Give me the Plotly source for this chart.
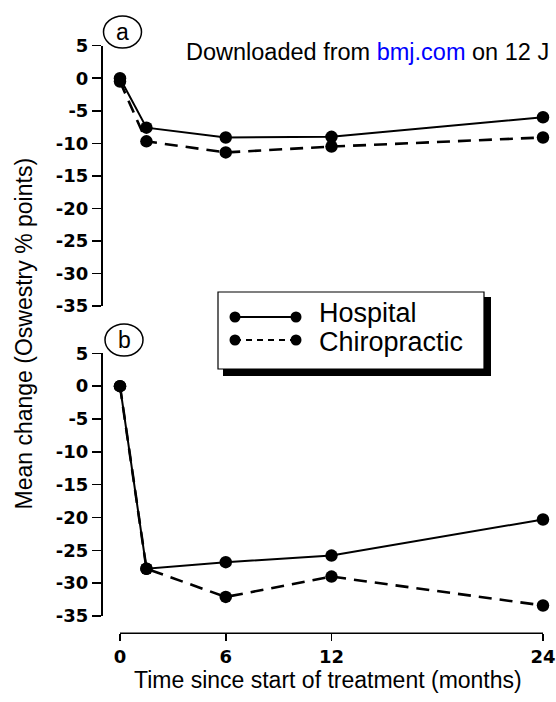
import plotly.graph_objects as go

# ---- data ----
months = [0, 1.5, 6, 12, 24]
tick_months = [0, 6, 12, 24]
tick_labels = ["0", "6", "12", "24"]
y_ticks = [5, 0, -5, -10, -15, -20, -25, -30, -35]
y_tick_labels = ["5", "0", "-5", "-10", "-15", "-20", "-25", "-30", "-35"]

hospital_a = [0, -7.6, -9.1, -9.0, -6.0]
chiro_a = [-0.5, -9.7, -11.4, -10.5, -9.1]
hospital_b = [0, -27.8, -26.8, -25.8, -20.3]
chiro_b = [0, -27.8, -32.1, -29.0, -33.4]

series_names = ["Hospital", "Chiropractic"]

W, H = 556, 702


def px(x):
    return x / W


def py(y):
    return 1 - y / H


fig = go.Figure()

solid = dict(color="black", width=2)
dashed = dict(color="black", width=2.6, dash="13px,8px")
mk = dict(color="black", size=12.5)

fig.add_trace(go.Scatter(x=months, y=hospital_a, mode="lines+markers", name=series_names[0],
                         line=solid, marker=mk, xaxis="x", yaxis="y", cliponaxis=False))
fig.add_trace(go.Scatter(x=months, y=chiro_a, mode="lines+markers", name=series_names[1],
                         line=dashed, marker=mk, xaxis="x", yaxis="y", cliponaxis=False))
fig.add_trace(go.Scatter(x=months, y=hospital_b, mode="lines+markers", name=series_names[0],
                         line=solid, marker=mk, xaxis="x", yaxis="y2", cliponaxis=False))
fig.add_trace(go.Scatter(x=months, y=chiro_b, mode="lines+markers", name=series_names[1],
                         line=dashed, marker=mk, xaxis="x", yaxis="y2", cliponaxis=False))

tickfont = dict(family="DejaVu Sans", size=18, color="black", weight="bold")
yax = dict(range=[-35, 5], tickvals=y_ticks, ticktext=y_tick_labels, showline=True,
           linecolor="black", linewidth=1.5, ticks="outside", ticklen=9, tickwidth=1.5,
           tickcolor="black", showgrid=False, zeroline=False, tickfont=tickfont, anchor="x",
           fixedrange=True, automargin=False)

x0 = 102.5
xr0 = 0 - (120 - x0) / 17.625
xr1 = (W - 120) / 17.625

fig.update_layout(
    template="none",
    width=W, height=H,
    margin=dict(l=0, r=0, t=0, b=0, autoexpand=False),
    paper_bgcolor="white", plot_bgcolor="white",
    xaxis=dict(domain=[px(x0), 1], range=[xr0, xr1], tickvals=tick_months, ticktext=tick_labels,
               showline=False, ticks="outside", ticklen=7, tickwidth=1.5, tickcolor="black",
               showgrid=False, zeroline=False, tickfont=tickfont, anchor="free",
               position=py(633.3), automargin=False, fixedrange=True),
    yaxis=dict(domain=[py(306), py(45.7)], **yax),
    yaxis2=dict(domain=[py(616), py(353.3)], **yax),
    showlegend=False,
)

shapes = []
# x-axis baseline spanning 0..24 months
shapes.append(dict(type="line", xref="x", yref="paper", x0=0, x1=24, y0=py(633.3), y1=py(633.3),
                   line=dict(color="black", width=1.5)))
# legend box with drop shadow
shapes.append(dict(type="rect", xref="paper", yref="paper", x0=px(223), x1=px(491),
                   y0=py(376), y1=py(297), fillcolor="black", line=dict(width=0), layer="above"))
shapes.append(dict(type="rect", xref="paper", yref="paper", x0=px(218), x1=px(484),
                   y0=py(369), y1=py(292), fillcolor="white", line=dict(color="black", width=1.2),
                   layer="above"))
# legend key samples (line with a dot at each end)
key_rows = [(317, "solid"), (340, "6px,5px")]
for ky, dash in key_rows:
    shapes.append(dict(type="line", xref="paper", yref="paper", x0=px(235), x1=px(296),
                       y0=py(ky), y1=py(ky), line=dict(color="black", width=2, dash=dash),
                       layer="above"))
    for kx in (235, 296):
        shapes.append(dict(type="circle", xref="paper", yref="paper", x0=px(kx - 5.5),
                           x1=px(kx + 5.5), y0=py(ky + 5.5), y1=py(ky - 5.5),
                           fillcolor="black", line=dict(color="black", width=0), layer="above"))
# panel label circles
for cx, cy in [(122.5, 32), (124, 340)]:
    shapes.append(dict(type="circle", xref="paper", yref="paper", x0=px(cx - 19), x1=px(cx + 19),
                       y0=py(cy + 16), y1=py(cy - 16), line=dict(color="black", width=1.5)))
fig.update_layout(shapes=shapes)

ann = []
for name, ty in zip(series_names, [313, 342]):
    ann.append(dict(text=name, x=px(317), y=py(ty), xref="paper", yref="paper", showarrow=False,
                    xanchor="left", yanchor="middle",
                    font=dict(family="Liberation Sans", size=27, color="black")))
for label, cx, cy in [("a", 122, 32), ("b", 124, 340)]:
    ann.append(dict(text=label, x=px(cx), y=py(cy), xref="paper", yref="paper", showarrow=False,
                    xanchor="center", yanchor="middle",
                    font=dict(family="Liberation Sans", size=23, color="black")))
ann.append(dict(text="Downloaded from <span style='color:#0000ff'>bmj.com</span> on 12 J",
                x=px(184), y=py(51.7), xref="paper", yref="paper", showarrow=False,
                xanchor="left", yanchor="middle",
                font=dict(family="Liberation Sans", size=23.5, color="black")))
ann.append(dict(text="Time since start of treatment (months)", x=px(327.7), y=py(680),
                xref="paper", yref="paper", showarrow=False, xanchor="center", yanchor="middle",
                font=dict(family="Liberation Sans", size=23, color="black")))
ann.append(dict(text="Mean change (Oswestry % points)", x=px(24), y=py(333.5), textangle=-90,
                xref="paper", yref="paper", showarrow=False, xanchor="center", yanchor="middle",
                font=dict(family="Liberation Sans", size=23, color="black")))
fig.update_layout(annotations=ann)

fig.write_html("out.html",
               config={"displayModeBar": False, "staticPlot": True},
               post_script="document.body.style.margin='0';document.body.style.overflow='hidden';")
